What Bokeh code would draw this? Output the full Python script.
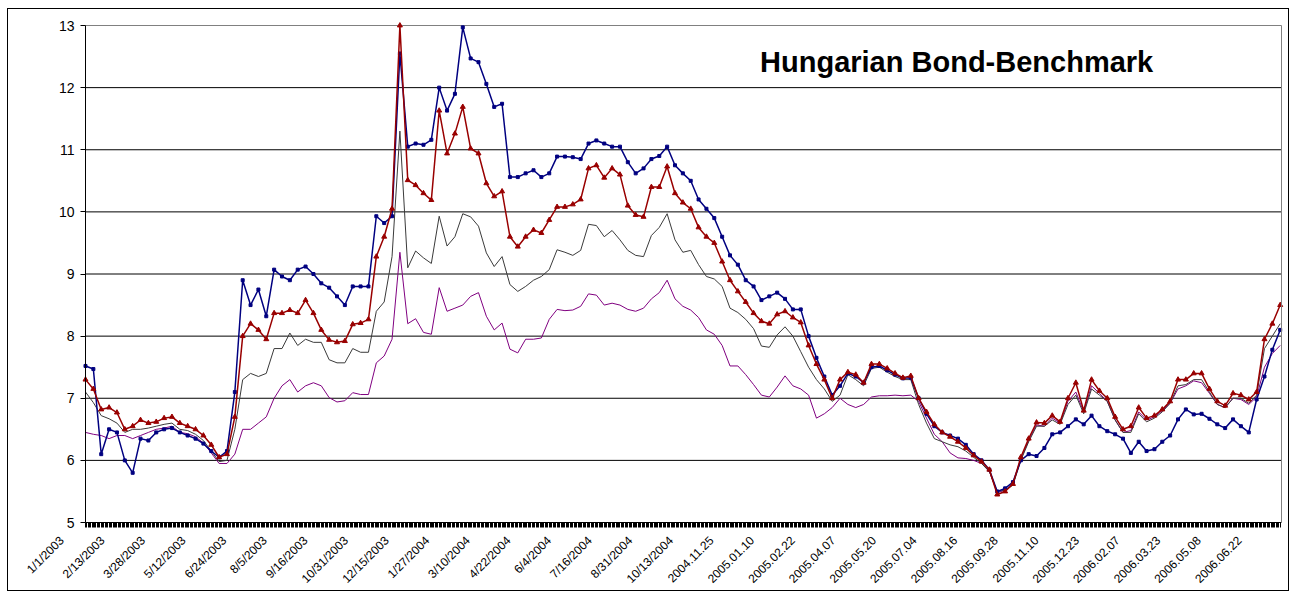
import math
from bokeh.plotting import figure
from bokeh.models import FixedTicker, Range1d, Label, LinearAxis
from bokeh.embed import file_html
from bokeh.resources import INLINE

# business-day index of each sample (one sample every 6 trading days from 1/1/2003)
day = list(range(0, 913, 6))

tick_labels = ["1/1/2003", "2/13/2003", "3/28/2003", "5/12/2003", "6/24/2003", "8/5/2003",
               "9/16/2003", "10/31/2003", "12/15/2003", "1/27/2004", "3/10/2004", "4/22/2004",
               "6/4/2004", "7/16/2004", "8/31/2004", "10/13/2004", "2004.11.25", "2005.01.10",
               "2005.02.22", "2005.04.07", "2005.05.20", "2005.07.04", "2005.08.16", "2005.09.28",
               "2005.11.10", "2005.12.23", "2006.02.07", "2006.03.23", "2006.05.08", "2006.06.22"]
label_every = 31
n_days = 913

blue = [7.52, 7.47, 6.1, 6.5, 6.45, 6.0, 5.8, 6.35, 6.32, 6.45,
        6.5, 6.52, 6.45, 6.4, 6.35, 6.27, 6.15, 6.05, 6.15, 7.1,
        8.9, 8.5, 8.75, 8.32, 9.07, 8.96, 8.9, 9.07, 9.12, 9.0,
        8.85, 8.78, 8.64, 8.5, 8.8, 8.8, 8.8, 9.93, 9.82, 9.93,
        12.55, 11.05, 11.1, 11.08, 11.16, 12.0, 11.63, 11.9, 12.97, 12.47,
        12.41, 12.06, 11.69, 11.74, 10.56, 10.56, 10.62, 10.67, 10.56, 10.62,
        10.89, 10.89, 10.88, 10.85, 11.1, 11.15, 11.1, 11.05, 11.05, 10.8,
        10.62, 10.7, 10.85, 10.9, 11.05, 10.75, 10.62, 10.5, 10.2, 10.05,
        9.9, 9.6, 9.3, 9.15, 8.9, 8.8, 8.58, 8.64, 8.7, 8.6,
        8.43, 8.43, 8.0, 7.65, 7.35, 7.05, 7.2, 7.4, 7.35, 7.25,
        7.5, 7.52, 7.45, 7.38, 7.32, 7.33, 7.0, 6.75, 6.55, 6.45,
        6.4, 6.35, 6.25, 6.1, 6.0, 5.85, 5.5, 5.55, 5.65, 6.0,
        6.1, 6.07, 6.2, 6.42, 6.45, 6.55, 6.66, 6.58, 6.72, 6.55,
        6.47, 6.42, 6.35, 6.12, 6.3, 6.15, 6.18, 6.3, 6.4, 6.66,
        6.82, 6.74, 6.75, 6.67, 6.58, 6.52, 6.66, 6.55, 6.45, 6.98,
        7.35, 7.78, 8.1]

red = [7.3, 7.15, 6.82, 6.85, 6.77, 6.5, 6.55, 6.65, 6.6, 6.62,
       6.68, 6.7, 6.6, 6.55, 6.5, 6.4, 6.25, 6.05, 6.1, 6.7,
       8.0, 8.2, 8.1, 7.95, 8.37, 8.37, 8.42, 8.37, 8.58, 8.37,
       8.1, 7.94, 7.9, 7.92, 8.19, 8.21, 8.27, 9.28, 9.6, 10.05,
       13.0, 10.51, 10.43, 10.3, 10.19, 11.63, 10.94, 11.26, 11.69, 11.02,
       10.94, 10.46, 10.25, 10.33, 9.6, 9.44, 9.6, 9.71, 9.66, 9.87,
       10.08, 10.08, 10.12, 10.2, 10.7, 10.75, 10.55, 10.7, 10.6, 10.1,
       9.95, 9.92, 10.4, 10.4, 10.73, 10.3, 10.15, 10.05, 9.75, 9.6,
       9.5, 9.2, 8.9, 8.72, 8.55, 8.37, 8.24, 8.2, 8.35, 8.4,
       8.3, 8.22, 7.85, 7.55, 7.3, 7.0, 7.3, 7.42, 7.38, 7.25,
       7.55, 7.55, 7.48, 7.4, 7.33, 7.36, 7.0, 6.78, 6.58, 6.45,
       6.38, 6.3, 6.2, 6.08, 5.98, 5.85, 5.45, 5.5, 5.62, 6.05,
       6.35, 6.61, 6.6, 6.72, 6.62, 7.0, 7.25, 6.8, 7.3, 7.12,
       7.0, 6.7, 6.5, 6.55, 6.85, 6.68, 6.72, 6.82, 6.95, 7.3,
       7.3, 7.4, 7.4, 7.15, 6.95, 6.88, 7.08, 7.05, 6.98, 7.1,
       7.95, 8.2, 8.5]

gray = [7.1, 6.93, 6.72, 6.67, 6.6, 6.45, 6.5, 6.5, 6.52, 6.55,
        6.58, 6.6, 6.5, 6.48, 6.42, 6.32, 6.15, 5.98, 6.0, 6.5,
        7.3, 7.4, 7.35, 7.4, 7.8, 7.8, 8.05, 7.85, 7.95, 7.9,
        7.9, 7.62, 7.57, 7.57, 7.8, 7.74, 7.74, 8.4, 8.55, 9.28,
        11.3, 9.1, 9.37, 9.26, 9.17, 9.93, 9.45, 9.6, 9.97, 9.92,
        9.77, 9.34, 9.12, 9.28, 8.83, 8.72, 8.8, 8.9, 8.96, 9.07,
        9.39, 9.35, 9.3, 9.38, 9.8, 9.78, 9.6, 9.7, 9.55, 9.38,
        9.3, 9.28, 9.62, 9.75, 9.97, 9.55, 9.35, 9.38, 9.15, 8.96,
        8.92, 8.8, 8.45, 8.38, 8.27, 8.12, 7.84, 7.82, 8.02, 8.15,
        8.0, 7.75, 7.5, 7.3, 7.15, 6.95, 7.05, 7.38, 7.3, 7.2,
        7.48, 7.5, 7.42, 7.35, 7.3, 7.3, 6.9, 6.6, 6.35, 6.3,
        6.25, 6.22, 6.15, 6.05, 5.95, 5.82, 5.5, 5.52, 5.6, 6.0,
        6.3, 6.55, 6.55, 6.65, 6.58, 6.9, 7.05, 6.75, 7.15, 7.05,
        6.95, 6.65, 6.45, 6.45, 6.75, 6.62, 6.68, 6.78, 6.92, 7.2,
        7.22, 7.3, 7.3, 7.1, 6.9, 6.85, 7.0, 7.0, 6.92, 7.05,
        7.8, 8.0, 8.2]

purple = [6.45, 6.42, 6.4, 6.35, 6.4, 6.4, 6.35, 6.4, 6.45, 6.5,
          6.52, 6.55, 6.45, 6.43, 6.38, 6.28, 6.12, 5.95, 5.95, 6.1,
          6.5, 6.5, 6.6, 6.7, 7.0, 7.2, 7.3, 7.1, 7.2, 7.25,
          7.2, 7.01, 6.94, 6.96, 7.09, 7.06, 7.06, 7.57, 7.68, 7.95,
          9.35, 8.2, 8.28, 8.06, 8.03, 8.78, 8.4, 8.45, 8.5, 8.64,
          8.7, 8.32, 8.1, 8.21, 7.79, 7.73, 7.95, 7.95, 7.97, 8.27,
          8.43, 8.41, 8.42, 8.48, 8.68, 8.66, 8.5, 8.53, 8.5, 8.43,
          8.4, 8.45, 8.6, 8.7, 8.9, 8.6, 8.48, 8.42, 8.3, 8.1,
          8.03, 7.85, 7.52, 7.52, 7.38, 7.22, 7.05, 7.02, 7.18, 7.36,
          7.2, 7.15, 7.05, 6.68, 6.75, 6.85, 7.0, 6.9, 6.85, 6.9,
          7.02, 7.04, 7.04, 7.05, 7.04, 7.05, 6.95, 6.68, 6.42, 6.3,
          6.12, 6.04, 6.03, 6.0, 5.95, 5.82, 5.48, 5.52, 5.62, 6.02,
          6.32, 6.57, 6.55, 6.68, 6.6, 6.95, 7.1, 6.78, 7.2, 7.08,
          6.95, 6.65, 6.45, 6.48, 6.78, 6.65, 6.7, 6.8, 6.92, 7.15,
          7.2, 7.28, 7.25, 7.08, 6.9, 6.85, 7.0, 6.98, 6.9, 7.02,
          7.5, 7.72, 7.85]

y_ticks = [5, 6, 7, 8, 9, 10, 11, 12, 13]
title_text = "Hungarian Bond-Benchmark"

FONT = "Liberation Sans"
LABEL_SHIFT = 18   # spreadsheet draws each category label ending left of its category

# The whole canvas is the frame; the plot area (days 0..913, values 5..13) sits inside it,
# with the spreadsheet-like axes drawn at fixed locations.
W, H = 1282, 583
PX_PER_DAY = 1196 / n_days
PX_PER_UNIT = 497 / (y_ticks[-1] - y_ticks[0])
x_lo = -77 / PX_PER_DAY
x_hi = n_days + 9 / PX_PER_DAY
y_hi = y_ticks[-1] + 16 / PX_PER_UNIT
y_lo = y_ticks[0] - 70 / PX_PER_UNIT

p = figure(width=W, height=H, output_backend="svg", toolbar_location=None,
           x_range=Range1d(x_lo, x_hi), y_range=Range1d(y_lo, y_hi),
           min_border=0, min_border_left=0, min_border_right=0, min_border_top=0,
           min_border_bottom=0, background_fill_color="white", border_fill_color="white")
p.styles = {"border": "1px solid #000000", "margin-left": "7px", "margin-top": "8px"}
p.outline_line_color = None
p.xgrid.visible = False
p.ygrid.visible = False

# horizontal grid lines spanning the category axis only, grey top border
inner = y_ticks[1:-1]
p.segment(x0=[0] * len(inner), y0=inner, x1=[n_days] * len(inner), y1=inner,
          line_color="black", line_width=1)
p.segment(x0=[0], y0=[y_ticks[-1]], x1=[n_days], y1=[y_ticks[-1]],
          line_color="#808080", line_width=1)

# bottom category axis: dense per-day tick marks form the black band, rotated date labels
label_pos = [i * label_every - LABEL_SHIFT for i in range(len(tick_labels))]
p.xaxis.fixed_location = y_ticks[0]
p.xaxis.ticker = FixedTicker(ticks=label_pos, minor_ticks=list(range(0, n_days)))
p.xaxis.major_label_overrides = {pos: lab for pos, lab in zip(label_pos, tick_labels)}
p.xaxis.bounds = (0, n_days)
p.xaxis.axis_line_color = "black"
p.xaxis.minor_tick_in = 0
p.xaxis.minor_tick_out = 5
p.xaxis.minor_tick_line_color = "black"
p.xaxis.major_tick_in = 0
p.xaxis.major_tick_out = 5
p.xaxis.major_tick_line_color = None
p.xaxis.major_label_orientation = math.pi / 4
p.xaxis.major_label_standoff = 11
p.xaxis.major_label_text_font = FONT
p.xaxis.major_label_text_font_size = "12px"
p.xaxis.major_label_text_color = "black"

# value axis drawn at the first category
p.yaxis.fixed_location = 0
p.yaxis.bounds = (y_ticks[0], y_ticks[-1])
p.yaxis.ticker = FixedTicker(ticks=y_ticks)
p.yaxis.major_label_text_font = FONT
p.yaxis.major_label_text_font_size = "14px"
p.yaxis.major_label_text_color = "black"
p.yaxis.axis_line_color = "black"
p.yaxis.major_tick_in = 0
p.yaxis.major_tick_out = 5
p.yaxis.minor_tick_line_color = None
p.yaxis.major_label_standoff = 6

# grey right border of the plot area
right_axis = LinearAxis(ticker=FixedTicker(ticks=[]), fixed_location=n_days,
                        bounds=(y_ticks[0], y_ticks[-1]), axis_line_color="#808080",
                        major_tick_line_color=None, minor_tick_line_color=None)
p.add_layout(right_axis, "right")

p.line(day, purple, line_color="#800080", line_width=1)
p.line(day, gray, line_color="#3a3a3a", line_width=1)
p.line(day, blue, line_color="#000080", line_width=1.5)
p.scatter(day, blue, marker="square", size=3, color="#000080")
p.line(day, red, line_color="#990000", line_width=1.5)
p.scatter(day, red, marker="triangle", size=5, color="#990000")

p.add_layout(Label(x=665, y=12.42, text=title_text, text_font=FONT, text_font_style="bold",
                   text_font_size="29px", text_align="center", text_baseline="middle",
                   text_color="black"))

open("out.html", "w").write(file_html(p, INLINE))
